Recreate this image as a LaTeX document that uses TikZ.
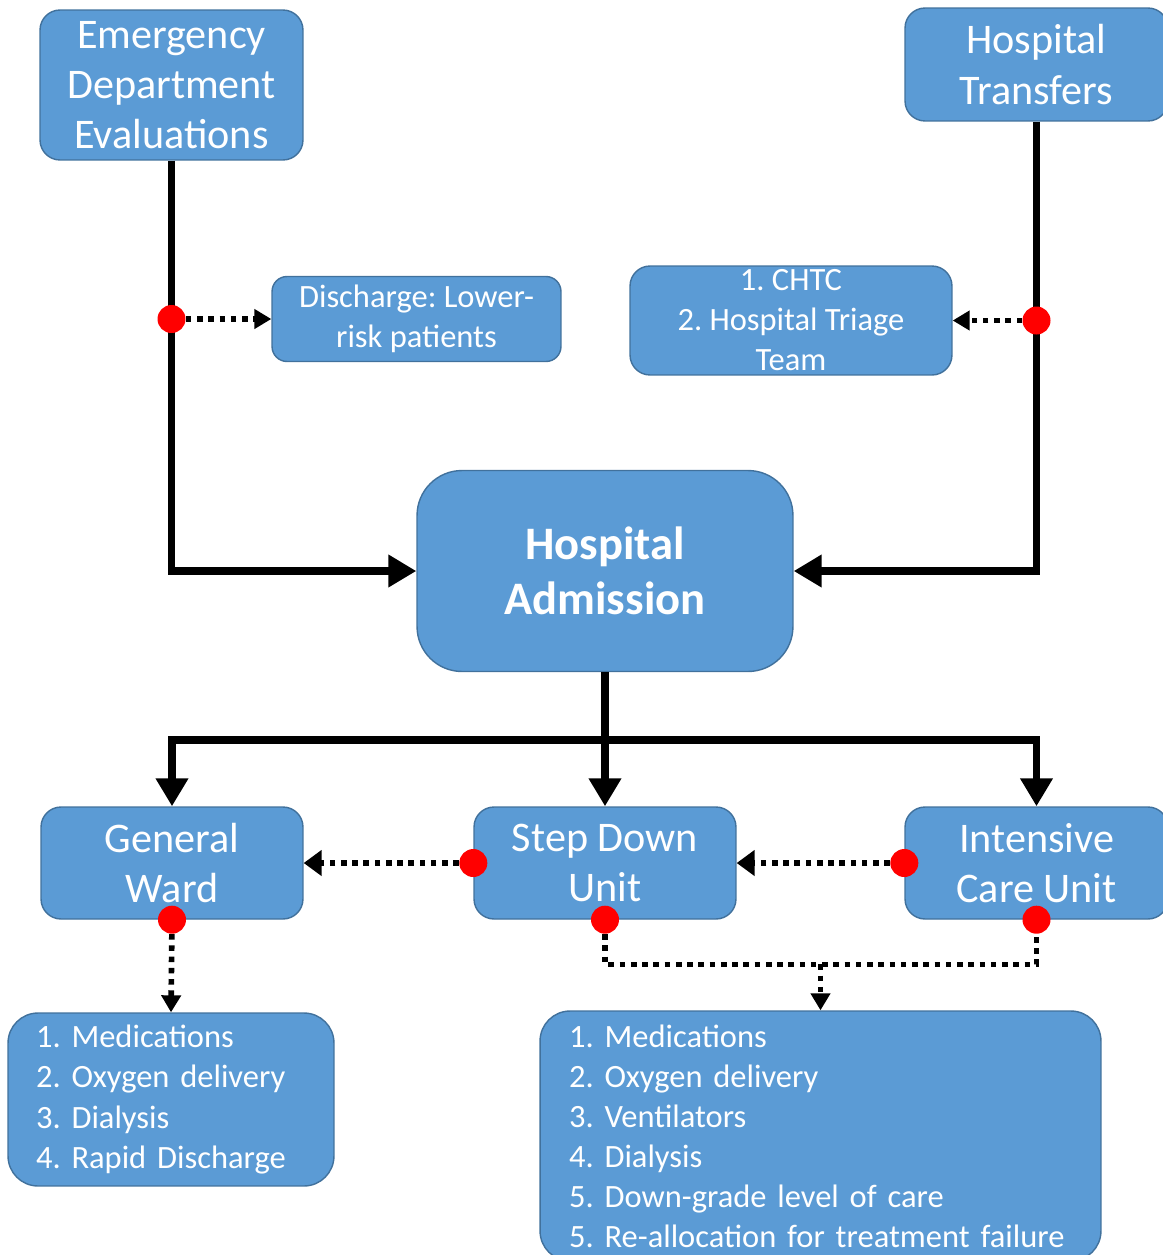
\documentclass[tikz,border=0pt]{standalone}
\usepackage{fontspec}
\setmainfont{Carlito}
\usepackage{xcolor}
\usetikzlibrary{arrows.meta}
\definecolor{boxblue}{HTML}{5B9BD5}
\definecolor{boxline}{HTML}{41719C}
\frenchspacing

\begin{document}
\begin{tikzpicture}[x=0.02cm, y=-0.02cm,
	box/.style={draw=boxline, line width=0.8pt, fill=boxblue, text=white, rounded corners=0.4cm, align=center, inner sep=0pt},
	big/.style={font=\fontsize{24}{28.5}\selectfont},
	small/.style={font=\fontsize{18.5}{22.8}\selectfont},
	flow/.style={line width=4.5pt, -{Triangle[length=0.56cm,width=0.62cm]}},
	dotflow/.style={line width=3.2pt, dash pattern=on 3.2pt off 3.2pt, -{Triangle[length=0.34cm,width=0.38cm]}},
	dotline/.style={line width=3.2pt, dash pattern=on 3.2pt off 3.2pt},
	reddot/.style={circle, fill=red, inner sep=0pt, minimum size=0.56cm}]
%	\draw[help lines] (0,0)grid[step=50](1163,1255);
	\useasboundingbox (0,0) rectangle (1163,1255);

	%sources
	\node[box, big, minimum width=5.26cm, minimum height=3cm] (ed) at (171.5,85) {Emergency\\Department\\Evaluations};
	\node[box, big, minimum width=5.26cm, minimum height=2.26cm] (ht) at (1036.5,64.5) {Hospital\\Transfers};
	\node[box, small, rounded corners=0.3cm, minimum width=5.78cm, minimum height=1.7cm] (dis) at (416.5,319) {Discharge: Lower-\\risk patients};
	\node[box, small, minimum width=6.44cm, minimum height=2.18cm] (chtc) at (791,320.5) {1. CHTC\\2. Hospital Triage\\Team};
	\node[box, rounded corners=0.9cm, font=\fontsize{26.5}{31.3}\selectfont\bfseries, minimum width=7.52cm, minimum height=4.02cm] (adm) at (605,571) {Hospital\\Admission};

	%units
	\node[box, big, minimum width=5.24cm, minimum height=2.24cm] (gw) at (172,863) {General\\Ward};
	\node[box, big, minimum width=5.24cm, minimum height=2.24cm] (sdu) at (605,863) {Step Down\\Unit};
	\node[box, big, minimum width=5.26cm, minimum height=2.24cm] (icu) at (1036.5,863) {Intensive\\Care Unit};

	%care lists
	\node[box, small, align=left, rounded corners=0.6cm, text width=5.4cm, inner xsep=0.56cm, minimum height=3.46cm] (gwl) at (171,1099.5) {1. Medications\\2. Oxygen delivery\\3. Dialysis\\4. Rapid Discharge};
	\node[box, small, align=left, rounded corners=0.6cm, text width=10.06cm, inner xsep=0.58cm, minimum height=5cm] (rl) at (820.5,1136) {1. Medications\\2. Oxygen delivery\\3. Ventilators\\4. Dialysis\\5. Down-grade level of care\\5. Re-allocation for treatment failure};

	%main flow
	\draw[flow] (ed.south) |- (adm.west);
	\draw[flow] (ht.south) |- (adm.east);
	\draw[flow] (adm.south) -- (sdu.north);
	\coordinate (bar) at (605,740);
	\draw[flow] (bar) -| (gw.north);
	\draw[flow] (bar) -| (icu.north);

	%red dots
	\node[reddot] (d1) at (ed.south |- dis.west) {};
	\node[reddot] (d2) at (ht.south |- chtc.east) {};
	\node[reddot] (s1) at (sdu.west) {};
	\node[reddot] (i1) at (icu.west) {};
	\node[reddot] (g2) at (gw.south) {};
	\node[reddot] (s2) at (sdu.south) {};
	\node[reddot] (i2) at (icu.south) {};

	%dotted flow
	\draw[dotflow] (d1) -- (dis.west);
	\draw[dotflow] (d2) -- (chtc.east);
	\draw[dotflow, -{Triangle[length=0.36cm,width=0.5cm]}] (s1) -- (gw.east);
	\draw[dotflow, -{Triangle[length=0.36cm,width=0.5cm]}] (i1) -- (sdu.east);
	\draw[dotflow] (g2) -- (gwl.north);
	\path (rl.north) ++(0,-46) coordinate (mid);
	\draw[dotline] (s2) |- (mid) -| (i2);
	\draw[dotflow] (mid) -- (rl.north);
\end{tikzpicture}
\end{document}
